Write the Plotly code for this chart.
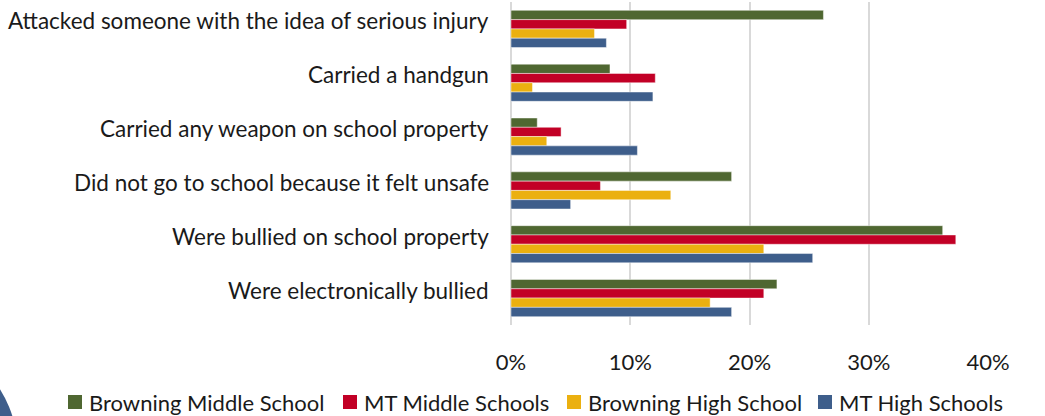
import plotly.graph_objects as go

# categories top to bottom
categories = [
    "Attacked someone with the idea of serious injury",
    "Carried a handgun",
    "Carried any weapon on school property",
    "Did not go to school because it felt unsafe",
    "Were bullied on school property",
    "Were electronically bullied",
]

# percentages as fractions
browning_ms = [0.262, 0.083, 0.022, 0.185, 0.362, 0.223]
mt_ms = [0.097, 0.121, 0.042, 0.075, 0.373, 0.212]
browning_hs = [0.070, 0.018, 0.030, 0.134, 0.212, 0.167]
mt_hs = [0.080, 0.119, 0.106, 0.050, 0.253, 0.185]

series = [
    ("Browning Middle School", browning_ms, "#4F6731"),
    ("MT Middle Schools", mt_ms, "#C20026"),
    ("Browning High School", browning_hs, "#EBB010"),
    ("MT High Schools", mt_hs, "#3E5E8B"),
]

FONT = "Lato"
TEXT_COLOR = "#1a1a1a"

# plot area in pixels (used to place the hand-drawn legend)
PL, PR, PT, PB = 511, 988, 2, 325


def px_x(x):
    return (x - PL) / (PR - PL)


def px_y(y):
    return (PB - y) / (PB - PT)


fig = go.Figure()
for name, vals, color in series:
    fig.add_trace(go.Bar(
        y=categories,
        x=vals,
        name=name,
        orientation="h",
        marker=dict(color=color, line=dict(color="rgba(255,255,255,0.45)", width=1)),
        showlegend=False,
    ))

# category labels sit a little above the bar-group centre, like the original
annotations = [
    dict(
        x=0, xref="paper", y=cat, yref="y",
        text=cat, showarrow=False,
        xanchor="right", yanchor="middle",
        xshift=-20, yshift=8,
        font=dict(family=FONT, size=22.5, color=TEXT_COLOR),
    )
    for cat in categories
]

# legend: squares + labels laid out along the bottom
legend_square_x = [68, 343, 567, 818]
shapes = []
for (name, _, color), sx in zip(series, legend_square_x):
    shapes.append(dict(
        type="rect", xref="paper", yref="paper",
        x0=px_x(sx), x1=px_x(sx + 14),
        y0=px_y(409), y1=px_y(395),
        fillcolor=color, line=dict(width=0),
    ))
    annotations.append(dict(
        x=px_x(sx + 19), xref="paper", y=px_y(402), yref="paper",
        text=name, showarrow=False,
        xanchor="left", yanchor="middle",
        font=dict(family=FONT, size=22, color=TEXT_COLOR),
    ))

# decorative blue arc in the bottom-left corner
shapes.append(dict(
    type="circle", xref="paper", yref="paper",
    x0=px_x(-218), x1=px_x(18),
    y0=px_y(570), y1=px_y(334),
    fillcolor="#3E5E8B", line=dict(width=0),
    layer="below",
))

fig.update_layout(
    width=1045,
    height=416,
    margin=dict(l=PL, r=1045 - PR, t=PT, b=416 - PB, autoexpand=False),
    barmode="group",
    bargap=0.31,
    bargroupgap=0,
    plot_bgcolor="white",
    paper_bgcolor="white",
    font=dict(family=FONT, size=22, color=TEXT_COLOR),
    showlegend=False,
    xaxis=dict(
        range=[0, 0.4],
        tickformat=".0%",
        dtick=0.1,
        showgrid=True,
        gridcolor="#D9D9D9",
        gridwidth=2,
        zeroline=True,
        zerolinecolor="#D9D9D9",
        zerolinewidth=2,
        showline=False,
        ticks="",
        ticklabelstandoff=22,
        tickfont=dict(size=22),
    ),
    yaxis=dict(
        autorange="reversed",
        showgrid=False,
        showline=False,
        ticks="",
        showticklabels=False,
    ),
    annotations=annotations,
    shapes=shapes,
)

# drop the default page margin so the figure sits at the window's corner
fig.write_html(
    "out.html",
    config={"displayModeBar": False},
    post_script="document.body.style.margin='0';",
)
